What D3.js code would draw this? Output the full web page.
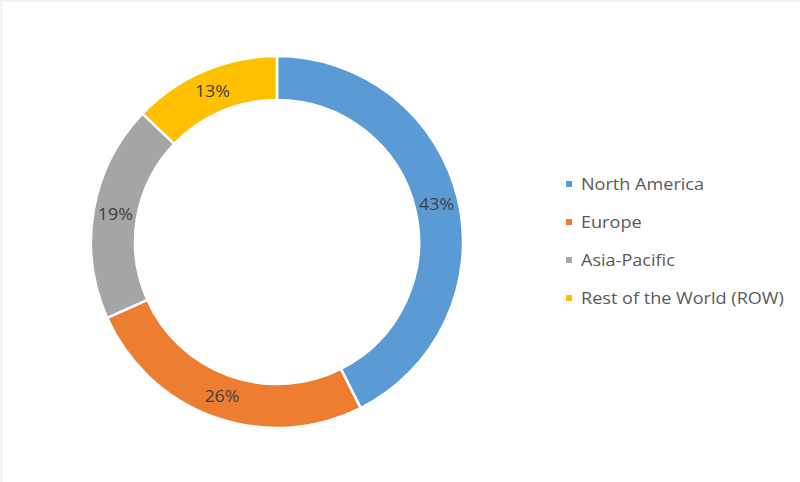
<!DOCTYPE html>
<html>
<head>
<meta charset="utf-8">
<script src="https://cdn.jsdelivr.net/npm/d3@7"></script>
<style>
  html, body { margin: 0; padding: 0; background: #fff; }
  svg { display: block; }
</style>
</head>
<body>
<svg id="chart" width="800" height="482"></svg>
<script>
const categories = ["North America", "Europe", "Asia-Pacific", "Rest of the World (ROW)"];
const values = [43, 26, 19, 13];
const labels = ["43%", "26%", "19%", "13%"];
const colors = ["#5B9BD5", "#ED7D31", "#A5A5A5", "#FFC000"];

const svg = d3.select("#chart");

// faint frame edges
svg.append("line").attr("x1", 0).attr("x2", 800).attr("y1", 0.5).attr("y2", 0.5)
  .attr("stroke", "#efefef").attr("stroke-width", 2);
svg.append("line").attr("x1", 1.5).attr("x2", 1.5).attr("y1", 0).attr("y2", 482)
  .attr("stroke", "#efefef").attr("stroke-width", 2);

const cx = 277, cy = 242, outerR = 186, innerR = 142;
const g = svg.append("g").attr("transform", `translate(${cx},${cy})`);

const data = categories.map((c, i) => ({ name: c, value: values[i], label: labels[i], color: colors[i] }));
const pie = d3.pie().value(d => d.value).sort(null);
const arc = d3.arc().innerRadius(innerR).outerRadius(outerR);

const arcs = pie(data);
g.selectAll("path").data(arcs).join("path")
  .attr("d", arc)
  .attr("fill", d => d.data.color)
  .attr("stroke", "#fff")
  .attr("stroke-width", 2.5);

g.selectAll("text.lbl").data(arcs).join("text")
  .attr("class", "lbl")
  .attr("transform", d => `translate(${arc.centroid(d)}) scale(1.15,1)`)
  .attr("text-anchor", "middle")
  .attr("dy", "0.35em")
  .attr("font-family", "'Open Sans', 'Liberation Sans', sans-serif")
  .attr("font-size", 15.5)
  .attr("fill", "#404040")
  .text(d => d.data.label);

const legend = svg.append("g").attr("transform", "translate(566,0)");
const ly = d3.scalePoint().domain(categories).range([184, 298]);
const items = legend.selectAll("g").data(data).join("g")
  .attr("transform", d => `translate(0,${ly(d.name)})`);
items.append("rect").attr("x", 0).attr("y", -3).attr("width", 6).attr("height", 6)
  .attr("fill", d => d.color);
items.append("text")
  .attr("transform", "translate(15,0) scale(1.13,1)")
  .attr("dy", "0.35em")
  .attr("font-family", "'Open Sans', 'Liberation Sans', sans-serif")
  .attr("font-size", 16)
  .attr("fill", "#595959")
  .text(d => d.name);
</script>
</body>
</html>
